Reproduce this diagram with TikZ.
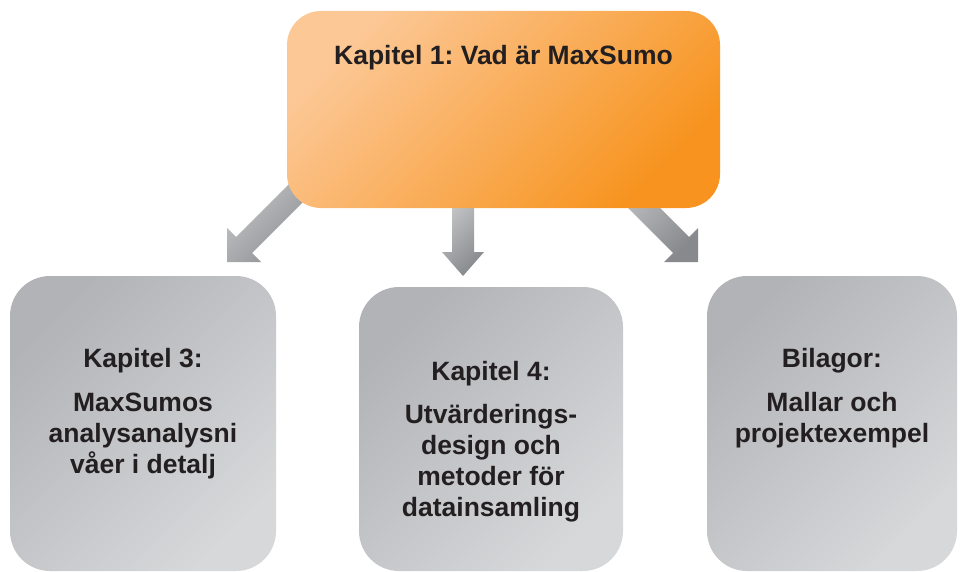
\documentclass[tikz,border=0pt]{standalone}
\usepackage{fontspec}
\setmainfont{Liberation Sans}
\frenchspacing
\definecolor{txt}{HTML}{231F20}
\definecolor{orL}{HTML}{FCC896}
\definecolor{orD}{HTML}{F7931E}
\definecolor{grL}{HTML}{D7D8DA}
\definecolor{grD}{HTML}{B1B3B6}
\definecolor{arL}{HTML}{C8CACC}
\definecolor{arD}{HTML}{88898C}
\begin{document}
\begin{tikzpicture}[x=1pt,y=-1pt,
  topbox/.style={rectangle, rounded corners=34pt, left color=orL, right color=orD, shading angle=45, inner sep=0pt, minimum width=433pt, minimum height=197pt},
  greybox/.style={rectangle, rounded corners=40pt, left color=grD, right color=grL, shading angle=45, inner sep=0pt, minimum width=#1},
  blockarrow/.style={left color=arL, right color=arD, shading angle=45},
  lbl/.style={font=\fontsize{26.5}{31}\selectfont\bfseries\frenchspacing, text=txt, align=center, inner sep=0pt, anchor=base}]
\useasboundingbox (0,0) rectangle (960,572);
% block arrows (drawn under the boxes)
\shade[blockarrow] (306,167) -- (236,237) -- (227,228) -- (227,262) -- (261,262) -- (252,253) -- (322,183) -- cycle;
\shade[blockarrow] (452,190) -- (452,252) -- (442,252) -- (463,276) -- (484,252) -- (474,252) -- (474,190) -- cycle;
\shade[blockarrow] (619,167) -- (689,237) -- (698,228) -- (698,262) -- (664,262) -- (673,253) -- (603,183) -- cycle;
% boxes
\node[topbox] (k1) at (503.5,109.5) {};
\node[greybox=266pt, minimum height=295pt] (k3) at (143,423.5) {};
\node[greybox=264pt, minimum height=284pt] (k4) at (491,429) {};
\node[greybox=250pt, minimum height=295pt] (bil) at (832,423.5) {};
% texts (base anchor = baseline of the last line)
\node[lbl] (t1) at (503.5,65) {Kapitel 1: Vad är MaxSumo};
\node[lbl] (t3) at (143,473) {Kapitel 3:\\[13pt] MaxSumos\\ analysanalysni\\ våer i detalj};
\node[lbl] (t4) at (491,516) {Kapitel 4:\\[12pt] Utvärderings-\\ design och\\ metoder för\\ datainsamling};
\node[lbl] (tb) at (832,442) {Bilagor:\\[13pt] Mallar och\\ projektexempel};
\end{tikzpicture}
\end{document}
